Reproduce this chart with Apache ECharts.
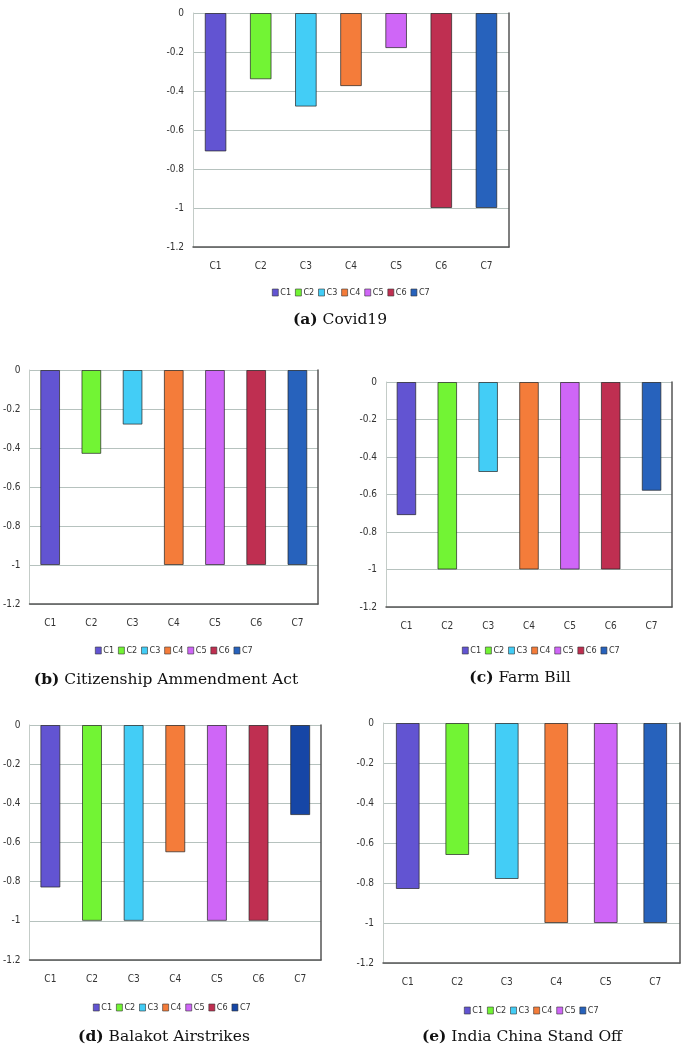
<!DOCTYPE html>
<html>
<head>
<meta charset="utf-8">
<script src="https://cdn.jsdelivr.net/npm/echarts@6/dist/echarts.min.js"></script>
<style>
html,body{margin:0;padding:0;background:#fff;}
#chart{width:685px;height:1048px;}
</style>
</head>
<body>
<div id="chart"></div>
<script>
// ---- Data ----
const categories7 = ['C1', 'C2', 'C3', 'C4', 'C5', 'C6', 'C7'];
const categoriesE = ['C1', 'C2', 'C3', 'C4', 'C5', 'C7'];
const covid19 = [-0.71, -0.34, -0.48, -0.375, -0.18, -1, -1];
const citizenshipAct = [-1, -0.43, -0.28, -1, -1, -1, -1];
const farmBill = [-0.71, -1, -0.48, -1, -1, -1, -0.58];
const balakot = [-0.83, -1, -1, -0.65, -1, -1, -0.46];
const indiaChina = [-0.83, -0.66, -0.78, -1, -1, -1];
const captionLetters = ['(a)', '(b)', '(c)', '(d)', '(e)'];
const captionNames = ['Covid19', 'Citizenship Ammendment Act', 'Farm Bill', 'Balakot Airstrikes', 'India China Stand Off'];
const yMin = -1.2, yMax = 0, yStep = 0.2;

// ---- Styles ----
const catColors = {C1:'#6254d2', C2:'#72f434', C3:'#43cdf6', C4:'#f47c3a', C5:'#cf66f7', C6:'#bf2f51', C7:'#2762bc'};
const balakotC7 = '#1646a6';
const panels = [
  {cats: categories7, vals: covid19, grid:{left:193, top:13, width:316, height:234}, legendTop:288, capX:340, capY:312, override:{}},
  {cats: categories7, vals: citizenshipAct, grid:{left:29, top:370, width:289, height:234}, legendTop:646, capX:166, capY:672, override:{}},
  {cats: categories7, vals: farmBill, grid:{left:386, top:382, width:286, height:225}, legendTop:646, capX:520, capY:670, override:{}},
  {cats: categories7, vals: balakot, grid:{left:23, top:725, width:298, height:235}, legendTop:1003, capX:164, capY:1029, override:{C7: balakotC7}},
  {cats: categoriesE, vals: indiaChina, grid:{left:383, top:723, width:297, height:240}, legendTop:1006, capX:522, capY:1029, override:{}}
];
const fontSans = "'Liberation Sans Narrow', 'DejaVu Sans Condensed', 'Liberation Sans', sans-serif";

const grids = [], xAxes = [], yAxes = [], series = [], legends = [], titles = [];
panels.forEach((p, pi) => {
  grids.push({left: p.grid.left, top: p.grid.top, width: p.grid.width, height: p.grid.height, containLabel: false});
  xAxes.push({
    type: 'category', gridIndex: pi, data: p.cats,
    axisLine: {onZero: false, lineStyle: {color: '#555', width: 1.5}},
    axisTick: {show: false},
    axisLabel: {margin: 14, fontFamily: fontSans, fontSize: 10, color: '#333'},
    splitLine: {show: false}
  });
  yAxes.push({
    type: 'value', gridIndex: pi, min: yMin, max: yMax, interval: yStep,
    axisLine: {show: true, lineStyle: {color: '#c4ccc8', width: 1}},
    axisTick: {show: false},
    axisLabel: {margin: 9, fontFamily: fontSans, fontSize: 10, color: '#333',
      formatter: v => String(Math.round(v * 10) / 10)},
    splitLine: {show: true, lineStyle: {color: '#b6c2be', width: 1.2}}
  });
  yAxes.push({
    type: 'value', gridIndex: pi, position: 'right', min: yMin, max: yMax, interval: yStep,
    axisLine: {show: true, lineStyle: {color: '#555', width: 1.5}},
    axisTick: {show: false}, axisLabel: {show: false}, splitLine: {show: false}
  });
  const legendData = [];
  p.cats.forEach((c, ci) => {
    const color = p.override[c] || catColors[c];
    const data = p.cats.map((_, k) => k === ci ? p.vals[ci] : null);
    series.push({
      name: c, type: 'bar', xAxisIndex: pi, yAxisIndex: 2 * pi, stack: 'p' + pi,
      barWidth: '48%', data: data,
      itemStyle: {color: color, borderColor: 'rgba(35,35,35,0.7)', borderWidth: 1},
      emphasis: {disabled: true}, animation: false
    });
    legendData.push({name: c, itemStyle: {color: color, borderColor: '#333', borderWidth: 0.6}});
  });
  legends.push({
    data: legendData, left: p.grid.left + p.grid.width / 2, top: p.legendTop,
    itemWidth: 6, itemHeight: 7, itemGap: 4, padding: 0,
    textStyle: {fontFamily: fontSans, fontSize: 9, color: '#333', padding: [0, 0, 0, -3]},
    icon: 'rect', selectedMode: false
  });
  titles.push({
    text: '{b|' + captionLetters[pi] + '} ' + captionNames[pi],
    left: p.capX, top: p.capY, textAlign: 'center', padding: 0,
    textStyle: {fontFamily: "'DejaVu Serif', serif", fontSize: 15.5, fontWeight: 'normal', color: '#111',
      rich: {b: {fontFamily: "'DejaVu Serif', serif", fontSize: 15.5, fontWeight: 'bold', color: '#111'}}}
  });
});

const chart = echarts.init(document.getElementById('chart'), null, {renderer: 'canvas'});
chart.setOption({
  animation: false,
  backgroundColor: '#fff',
  title: titles,
  grid: grids,
  xAxis: xAxes,
  yAxis: yAxes,
  legend: legends,
  series: series
});
// shift legends so they are centered on the plot
const model = chart.getModel();
const newLegends = panels.map((p, i) => {
  const comp = model.getComponent('legend', i);
  const view = chart.getViewOfComponentModel(comp);
  const rect = view.group.getBoundingRect();
  const cx = p.grid.left + p.grid.width / 2;
  return {left: Math.round(cx - rect.width / 2)};
});
chart.setOption({legend: newLegends});
</script>
</body>
</html>
